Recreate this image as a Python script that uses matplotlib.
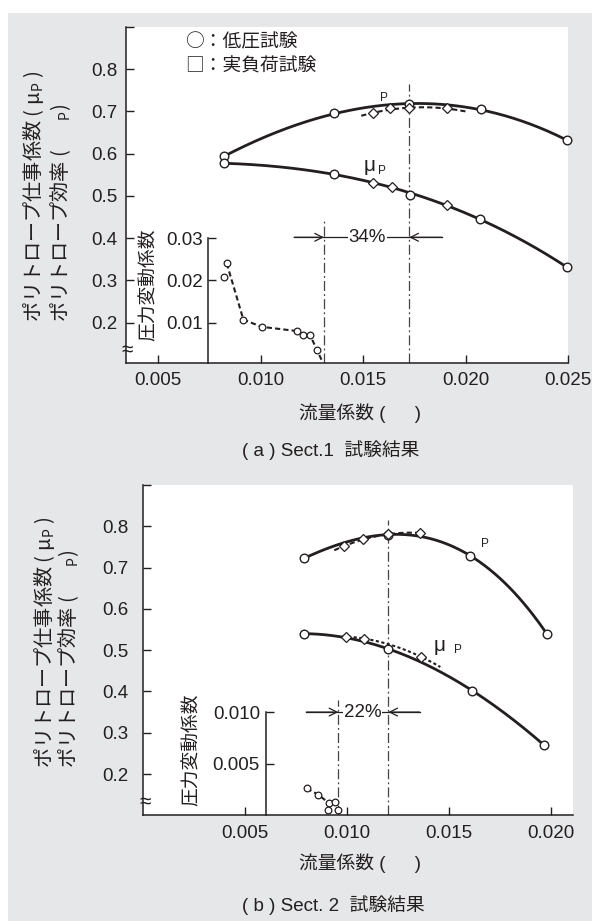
import numpy as np
import matplotlib

matplotlib.use("Agg")
import matplotlib.pyplot as plt
from matplotlib.patches import Rectangle

plt.rcParams["font.family"] = ["Liberation Sans", "Noto Sans CJK JP"]
plt.rcParams["mathtext.fontset"] = "custom"
plt.rcParams["mathtext.rm"] = "Noto Sans CJK JP"

INK = "#231f20"
GRAY = "#e6e7e8"
CJK = "Noto Sans CJK JP"

# ---- Sect.1 ----
S1_ETA_LOW_X = [0.00822, 0.01359, 0.01724, 0.02073, 0.02492]
S1_ETA_LOW_Y = [0.594, 0.6955, 0.717, 0.705, 0.632]
S1_ETA_LOAD_X = [0.01546, 0.0163, 0.01724, 0.0191]
S1_ETA_LOAD_Y = [0.6955, 0.707, 0.707, 0.707]
S1_ETA_LOAD_SPAN = (0.0149, 0.0201)
S1_MU_LOW_X = [0.00822, 0.01356, 0.01728, 0.02069, 0.02492]
S1_MU_LOW_Y = [0.577, 0.553, 0.503, 0.4453, 0.3313]
S1_MU_LOAD_X = [0.01546, 0.0164, 0.0191]
S1_MU_LOAD_Y = [0.531, 0.520, 0.479]
S1_PF_X = [0.00822, 0.00834, 0.00915, 0.01004, 0.01175, 0.01207, 0.0124, 0.01273]
S1_PF_Y = [0.0208, 0.0240, 0.0107, 0.0090, 0.0080, 0.0071, 0.0071, 0.0036]
S1_PF_LINE_X = [0.00834, 0.00915, 0.01004, 0.01175, 0.01207, 0.0124, 0.01273, 0.0130]
S1_PF_LINE_Y = [0.0240, 0.0107, 0.0090, 0.0080, 0.0071, 0.0071, 0.0036, 0.0008]
S1_PF_TICKS = [0.01, 0.02, 0.03]
S1_PF_LABELS = ["0.01", "0.02", "0.03"]
S1_XTICKS = [0.005, 0.010, 0.015, 0.020, 0.025]
S1_SURGE_X, S1_SURGE_TOP = 0.01308, 0.444
S1_DESIGN_X, S1_DESIGN_TOP = 0.01724, 0.764
S1_MARGIN = "34%"

# ---- Sect.2 ----
S2_ETA_LOW_X = [0.0079, 0.01205, 0.01607, 0.01981]
S2_ETA_LOW_Y = [0.722, 0.780, 0.7285, 0.540]
S2_ETA_LOAD_X = [0.00987, 0.01082, 0.01205, 0.01358]
S2_ETA_LOAD_Y = [0.752, 0.768, 0.781, 0.784]
S2_ETA_LOAD_SPAN = (0.0094, 0.0136)
S2_MU_LOW_X = [0.0079, 0.01205, 0.01617, 0.01968]
S2_MU_LOW_Y = [0.540, 0.503, 0.4017, 0.270]
S2_MU_LOAD_X = [0.00996, 0.01086, 0.01365]
S2_MU_LOAD_Y = [0.533, 0.528, 0.484]
S2_MU_LOAD_SPAN = (0.0098, 0.0146)
S2_PF_X = [0.00805, 0.00862, 0.00912, 0.00945, 0.0091, 0.0096]
S2_PF_Y = [0.0026, 0.0020, 0.0012, 0.0013, 0.0005, 0.0005]
S2_PF_LINE_X = [0.00805, 0.00862, 0.00912]
S2_PF_LINE_Y = [0.0026, 0.0020, 0.0012]
S2_PF_TICKS = [0.005, 0.010]
S2_PF_LABELS = ["0.005", "0.010"]
S2_XTICKS = [0.005, 0.010, 0.015, 0.020]
S2_SURGE_X, S2_SURGE_TOP = 0.0096, 0.38
S2_DESIGN_X, S2_DESIGN_TOP = 0.01205, 0.816
S2_MARGIN = "22%"

Y_TICKS = [0.2, 0.3, 0.4, 0.5, 0.6, 0.7, 0.8, 0.9]
Y_LABELS = ["0.2", "0.3", "0.4", "0.5", "0.6", "0.7", "0.8", ""]

FS = 13.5

W, H = 592, 921
fig = plt.figure(figsize=(W / 100, H / 100), dpi=100)
fig.patches.append(Rectangle((8 / W, 0), 1 - 8 / W, 1 - 13 / H, transform=fig.transFigure,
                             facecolor=GRAY, edgecolor="none", zorder=-10))


def box(left, top, right, bottom):
    return [left / W, 1 - bottom / H, (right - left) / W, (bottom - top) / H]


def ftext(x, y, s, **kw):
    kw.setdefault("color", INK)
    return fig.text(x / W, 1 - y / H, s, **kw)


def fitted(x, y, deg, lo, hi):
    coef = np.polyfit(x, y, deg)
    xs = np.linspace(lo, hi, 200)
    return xs, np.polyval(coef, xs)


def style_axis(ax, pad):
    for side in ("top", "right"):
        ax.spines[side].set_visible(False)
    for side in ("left", "bottom"):
        ax.spines[side].set_color(INK)
        ax.spines[side].set_linewidth(1.1)
    ax.tick_params(direction="in", length=6, width=1.0, colors=INK, labelsize=FS)
    ax.tick_params(axis="y", pad=pad)
    ax.tick_params(axis="x", pad=7)


def draw_panel(ax, xlim, ylim, xticks, eta_low, eta_load, eta_span, mu_low, mu_load, mu_span,
               pf, pf_line, inset, pf_ticks, pf_labels, surge, design, margin, ypad, ipad):
    ax.set_xlim(*xlim)
    ax.set_ylim(*ylim)
    ax.set_xticks(xticks)
    ax.set_xticklabels([f"{t:.3f}" for t in xticks])
    ax.set_yticks(Y_TICKS)
    ax.set_yticklabels(Y_LABELS)
    style_axis(ax, ypad)

    circ = dict(marker="o", ms=6.2, mfc="white", mec=INK, mew=1.0, ls="none", zorder=5, clip_on=False)
    diam = dict(marker="D", ms=5.2, mfc="white", mec=INK, mew=0.9, ls="none", zorder=6, clip_on=False)

    # solid fitted curves of the low-pressure tests
    xs, ys = fitted(eta_low[0], eta_low[1], 3, min(eta_low[0]), max(eta_low[0]))
    ax.plot(xs, ys, color=INK, lw=2.0, zorder=3)
    mx = list(mu_low[0]) + (list(mu_load[0]) if mu_span is None else [])
    my = list(mu_low[1]) + (list(mu_load[1]) if mu_span is None else [])
    xs, ys = fitted(mx, my, 3, min(mu_low[0]), max(mu_low[0]))
    ax.plot(xs, ys, color=INK, lw=2.0, zorder=3)

    # dashed curves of the full-load tests
    xs, ys = fitted(eta_load[0], eta_load[1], 2, *eta_span)
    ax.plot(xs, ys, color=INK, lw=1.5, ls=(0, (2.5, 1.5)), zorder=4)
    if mu_span is not None:
        xs, ys = fitted(mu_load[0], mu_load[1], 2, *mu_span)
        ax.plot(xs, ys, color=INK, lw=1.5, ls=(0, (1.5, 1.2)), zorder=4)

    ax.plot(*eta_low, **circ)
    ax.plot(*mu_low, **circ)
    ax.plot(*eta_load, **diam)
    ax.plot(*mu_load, **diam)

    # surge and design lines
    dashdot = dict(color="#444444", lw=0.9, ls=(0, (8, 2.5, 1.5, 2.5)), zorder=2)
    ax.plot([surge[0], surge[0]], [ylim[0], surge[1]], **dashdot)
    ax.plot([design[0], design[0]], [ylim[0], design[1]], **dashdot)

    # margin arrows
    y_arr, left_end, right_end, x_txt = margin[1]
    ax.plot([left_end, right_end], [y_arr, y_arr], color=INK, lw=0.9, zorder=2)
    arrow = dict(arrowstyle="->", lw=0.9, color=INK, shrinkA=0, shrinkB=0, mutation_scale=14)
    ax.annotate("", xy=(surge[0], y_arr), xytext=(left_end, y_arr), arrowprops=arrow)
    ax.annotate("", xy=(design[0], y_arr), xytext=(right_end, y_arr), arrowprops=arrow)
    ax.text(x_txt, y_arr, margin[0], ha="center", va="center", fontsize=FS, color=INK, zorder=2.5,
            bbox=dict(facecolor="white", edgecolor="none", pad=0.6))

    # pressure fluctuation inset
    ins = ax.inset_axes([inset[0], ylim[0], xlim[1] - inset[0], inset[1] - ylim[0]],
                        transform=ax.transData)
    ins.patch.set_alpha(0)
    ins.set_xlim(inset[0], xlim[1])
    ins.set_ylim(inset[2], pf_ticks[-1])
    for side in ("top", "right", "bottom"):
        ins.spines[side].set_visible(False)
    ins.spines["left"].set_color(INK)
    ins.spines["left"].set_linewidth(1.1)
    ins.set_xticks([])
    ins.set_yticks(pf_ticks)
    ins.set_yticklabels(pf_labels)
    ins.tick_params(direction="in", length=6, width=1.0, colors=INK, labelsize=FS, pad=ipad)
    ins.plot(*pf_line, color=INK, lw=1.5, ls=(0, (2.5, 1.5)), zorder=3)
    ins.plot(*pf, marker="o", ms=4.8, mfc="white", mec=INK, mew=0.9, ls="none", zorder=5, clip_on=False)
    return ins


def curve_labels(ax, eta_pos, mu_pos, p_pos):
    ax.text(*eta_pos, "P", fontsize=8.5, color=INK, va="baseline")
    ax.text(*mu_pos, "μ", fontsize=15, color=INK, va="baseline")
    ax.text(*p_pos, "P", fontsize=8.5, color=INK, va="baseline")


Y1 = "ポリトロープ仕事係数 ( μ${}_{\\mathrm{P}}$ )"
Y2 = "ポリトロープ効率 (　  ${}_{\\mathrm{P}}$)"

# ---- panel (a) ----
ax_a = fig.add_axes(box(125.5, 27, 568.3, 362.7))
draw_panel(ax_a, (0.0034, 0.025), (0.105, 0.9), S1_XTICKS,
           (S1_ETA_LOW_X, S1_ETA_LOW_Y), (S1_ETA_LOAD_X, S1_ETA_LOAD_Y), S1_ETA_LOAD_SPAN,
           (S1_MU_LOW_X, S1_MU_LOW_Y), (S1_MU_LOAD_X, S1_MU_LOAD_Y), None,
           (S1_PF_X, S1_PF_Y), (S1_PF_LINE_X, S1_PF_LINE_Y), (0.00744, 0.4, 0.0005),
           S1_PF_TICKS, S1_PF_LABELS, (S1_SURGE_X, S1_SURGE_TOP), (S1_DESIGN_X, S1_DESIGN_TOP),
           (S1_MARGIN, (0.402, 0.01163, 0.01882, 0.01520)), 6, 3.6)
curve_labels(ax_a, (0.01582, 0.7247), (0.0150, 0.559), (0.01572, 0.553))
ftext(185, 42, "○：低圧試験", family=CJK, fontsize=FS, va="center")
ftext(185, 66, "□：実負荷試験", family=CJK, fontsize=FS, va="center")
ftext(33.5, 322, Y1, family=CJK, fontsize=14.5, rotation=90, ha="center", va="bottom")
ftext(60.5, 322, Y2, family=CJK, fontsize=14.5, rotation=90, ha="center", va="bottom")
ftext(149, 285, "圧力変動係数", fontsize=FS, rotation=90, ha="center", va="center")
ftext(127, 350, "≈", fontsize=15, ha="center", va="center")
ftext(360, 413, "流量係数 (　  )", fontsize=FS, ha="center", va="center")
ftext(331, 450, "( a ) Sect.1  試験結果", fontsize=FS, ha="center", va="center")

# ---- panel (b) ----
ax_b = fig.add_axes(box(142.5, 485, 573, 815.3))
draw_panel(ax_b, (0.0, 0.0211), (0.1, 0.9), S2_XTICKS,
           (S2_ETA_LOW_X, S2_ETA_LOW_Y), (S2_ETA_LOAD_X, S2_ETA_LOAD_Y), S2_ETA_LOAD_SPAN,
           (S2_MU_LOW_X, S2_MU_LOW_Y), (S2_MU_LOAD_X, S2_MU_LOAD_Y), S2_MU_LOAD_SPAN,
           (S2_PF_X, S2_PF_Y), (S2_PF_LINE_X, S2_PF_LINE_Y), (0.00607, 0.35, 0.0),
           S2_PF_TICKS, S2_PF_LABELS, (S2_SURGE_X, S2_SURGE_TOP), (S2_DESIGN_X, S2_DESIGN_TOP),
           (S2_MARGIN, (0.35, 0.00803, 0.01358, 0.01078)), 10, 4.6)
curve_labels(ax_b, (0.01657, 0.749), (0.01425, 0.497), (0.01525, 0.494))
ftext(45, 768, Y1, family=CJK, fontsize=14.5, rotation=90, ha="center", va="bottom")
ftext(69, 768, Y2, family=CJK, fontsize=14.5, rotation=90, ha="center", va="bottom")
ftext(192, 750, "圧力変動係数", fontsize=FS, rotation=90, ha="center", va="center")
ftext(145, 802, "≈", fontsize=15, ha="center", va="center")
ftext(360, 863, "流量係数 (　  )", fontsize=FS, ha="center", va="center")
ftext(333, 905, "( b ) Sect. 2  試験結果", fontsize=FS, ha="center", va="center")

fig.savefig("out.png", dpi=100, facecolor="white")
plt.close(fig)
